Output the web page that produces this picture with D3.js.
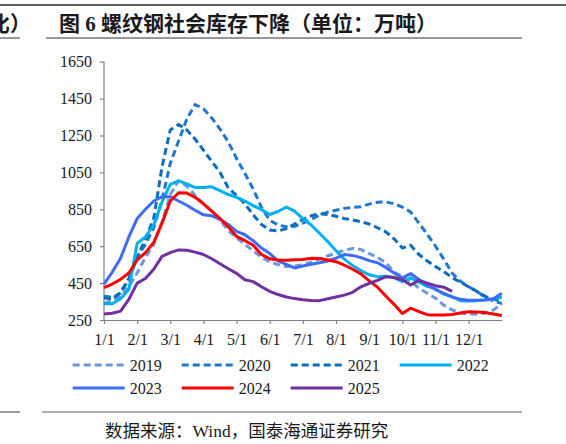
<!DOCTYPE html>
<html>
<head>
<meta charset="utf-8">
<script src="https://cdn.jsdelivr.net/npm/d3@7"></script>
<style>
  html, body { margin: 0; padding: 0; background: #fff; }
  svg { display: block; }
</style>
</head>
<body>
<svg id="chart" width="566" height="444"></svg>
<script>
// x position of each sample, in months after 1/1 (quarter-month steps)
const pos = [0,0.25,0.5,0.75,1,1.25,1.5,1.75,2,2.25,2.5,2.75,3,3.25,3.5,3.75,4,4.25,4.5,4.75,
  5,5.25,5.5,5.75,6,6.25,6.5,6.75,7,7.25,7.5,7.75,8,8.25,8.5,8.75,9,9.25,9.5,9.75,
  10,10.25,10.5,10.75,11,11.25,11.5,11.75,12];

const monthLabels = ['1/1','2/1','3/1','4/1','5/1','6/1','7/1','8/1','9/1','10/1','11/1','12/1'];
const yTicks = [250, 450, 650, 850, 1050, 1250, 1450, 1650];

const v2019 = [340,355,380,430,505,590,660,780,930,1005,975,925,880,840,790,735,695,660,625,590,
  565,550,540,542,550,563,580,598,612,628,638,632,610,590,560,510,485,460,422,395,
  368,330,305,288,282,283,287,305,340];
const v2020 = [380,372,395,470,590,660,750,900,1100,1220,1340,1418,1395,1345,1285,1215,1125,1045,960,860,
  790,765,755,758,775,795,818,835,845,855,860,864,878,888,890,880,862,835,775,715,
  650,580,505,460,430,405,372,352,340];
const v2021 = [370,362,400,475,590,690,800,1080,1280,1310,1280,1230,1171,1110,1050,965,925,880,820,768,
  738,732,745,770,795,815,826,822,812,800,792,782,770,750,728,690,640,655,605,570,
  540,512,480,455,430,405,378,362,352];
const v2022 = [338,338,365,415,665,700,765,890,985,1004,988,968,968,972,951,930,915,895,870,848,
  822,838,862,840,800,765,720,675,625,580,545,518,495,485,487,480,458,478,455,432,
  420,390,376,355,353,355,360,362,375];
const v2023 = [445,510,585,700,800,850,895,918,918,895,872,845,820,815,795,768,730,712,680,640,
  610,570,552,532,543,552,560,570,585,605,600,588,572,560,535,505,478,502,470,440,
  415,395,375,362,357,357,358,365,395];
const v2024 = [425,445,470,505,575,615,670,775,895,940,938,915,880,840,800,755,703,680,655,605,
  582,575,574,576,578,585,583,575,566,548,525,500,462,428,380,335,285,314,295,279,
  277,277,280,288,295,293,290,282,274];
const v2025 = [282,287,298,362,450,475,525,595,615,630,628,618,605,582,555,528,503,468,458,430,
  405,388,375,366,360,356,355,365,375,385,400,430,449,465,485,480,468,440,465,450,
  436,428,405,null,null,null,null,null,null];

const years = ['2019','2020','2021','2022','2023','2024','2025'];
const seriesValues = [v2019, v2020, v2021, v2022, v2023, v2024, v2025];
const colors = ['#6A98DE','#1F77D0','#0A6CC0','#00B0F0','#3E6CF5','#FF0000','#7030A0'];
const dashes = ['7,4','7,4','7,4',null,null,null,null];

const svg = d3.select('#chart');
const serif = '"Liberation Serif", "Times New Roman", serif';
const cjk = '"Noto Sans CJK SC", sans-serif';

// page frame: rules and headings
svg.append('line').attr('x1', 0).attr('x2', 566).attr('y1', 5).attr('y2', 5)
  .attr('stroke', '#606060').attr('stroke-width', 2);
svg.append('line').attr('x1', 0).attr('x2', 20).attr('y1', 38).attr('y2', 38)
  .attr('stroke', '#333').attr('stroke-width', 1);
svg.append('line').attr('x1', 46).attr('x2', 522).attr('y1', 38).attr('y2', 38)
  .attr('stroke', '#333').attr('stroke-width', 1);
// tail of the neighbouring column's heading, clipped by the page edge as in the source
svg.append('text').attr('x', -11).attr('y', 31)
  .attr('font-family', cjk).attr('font-weight', 700).attr('font-size', 21).attr('fill', '#1a1a1a')
  .text('比）');
svg.append('text').attr('x', 59).attr('y', 31)
  .attr('font-family', serif + ', ' + cjk).attr('font-weight', 700).attr('font-size', 21).attr('fill', '#1a1a1a')
  .text('图 6 螺纹钢社会库存下降（单位：万吨）');

svg.append('line').attr('x1', 0).attr('x2', 20).attr('y1', 412).attr('y2', 412)
  .attr('stroke', '#606060').attr('stroke-width', 1.2);
svg.append('line').attr('x1', 42).attr('x2', 522).attr('y1', 412).attr('y2', 412)
  .attr('stroke', '#606060').attr('stroke-width', 1.2);
svg.append('text').attr('x', 105).attr('y', 437)
  .attr('font-family', serif + ', ' + cjk).attr('font-size', 17.5).attr('fill', '#1a1a1a')
  .text('数据来源：Wind，国泰海通证券研究');

// scales
const x = d3.scaleLinear().domain([0, 12]).range([104, 501.8]);
const y = d3.scaleLinear().domain([250, 1650]).range([320, 61.7]);

// axes
const yAxis = svg.append('g').attr('transform', 'translate(104,0)')
  .call(d3.axisLeft(y).tickValues(yTicks).tickFormat(d3.format('d')).tickSize(4).tickPadding(8));
const xAxis = svg.append('g').attr('transform', 'translate(0,320)')
  .call(d3.axisBottom(x).tickValues(d3.range(monthLabels.length))
    .tickFormat(i => monthLabels[i]).tickSize(4).tickPadding(10).tickSizeOuter(0));
[yAxis, xAxis].forEach(g => {
  g.select('.domain').attr('stroke', '#808080').attr('stroke-width', 1.2);
  g.selectAll('.tick line').attr('stroke', '#808080').attr('stroke-width', 1.2);
  g.selectAll('.tick text').attr('font-family', serif).attr('font-size', 16).attr('fill', '#1a1a1a');
});
yAxis.select('.domain').attr('d', `M0,${y(250)}V${y(1650)}`);

// lines
const line = d3.line()
  .defined(d => d.v != null)
  .x(d => x(d.m))
  .y(d => y(d.v));

svg.append('g').selectAll('path')
  .data(years.map((yr, i) => ({ yr, color: colors[i], dash: dashes[i],
    pts: pos.map((m, j) => ({ m, v: seriesValues[i][j] })) })))
  .enter().append('path')
  .attr('d', d => line(d.pts))
  .attr('fill', 'none')
  .attr('stroke', d => d.color)
  .attr('stroke-width', 3)
  .attr('stroke-dasharray', d => d.dash)
  .attr('stroke-linejoin', 'round');

// legend
const legend = svg.append('g').selectAll('g')
  .data(years)
  .enter().append('g')
  .attr('transform', (d, i) => `translate(${72.7 + (i % 4) * 109},${i < 4 ? 365 : 388})`);
legend.append('line')
  .attr('x1', 0).attr('x2', 52).attr('y1', 0).attr('y2', 0)
  .attr('stroke', (d, i) => colors[i]).attr('stroke-width', 3)
  .attr('stroke-dasharray', (d, i) => dashes[i]);
legend.append('text')
  .attr('x', 57).attr('y', 5.5)
  .attr('font-family', serif).attr('font-size', 16).attr('fill', '#1a1a1a')
  .text(d => d);
</script>
</body>
</html>
